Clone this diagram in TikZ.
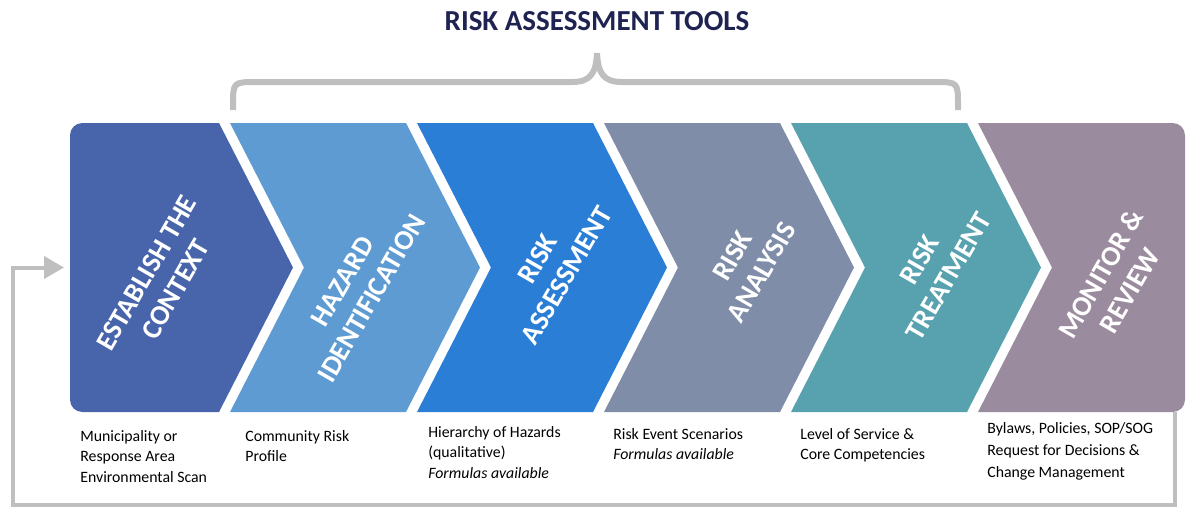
\documentclass[tikz,border=0pt]{standalone}
\usepackage{fontspec}
\setmainfont{Carlito}
\usepackage{xcolor}
\usetikzlibrary{arrows.meta,positioning}

\definecolor{ctxblue}{HTML}{4865AC}
\definecolor{hazblue}{HTML}{5F9BD3}
\definecolor{assblue}{HTML}{2B7ED6}
\definecolor{anaslate}{HTML}{7F8DA9}
\definecolor{trtteal}{HTML}{57A2AE}
\definecolor{monmauve}{HTML}{9B8B9E}
\definecolor{linegrey}{HTML}{BFBFBF}
\definecolor{titlenavy}{HTML}{1F2352}

\begin{document}
\begin{tikzpicture}[x=0.02cm,y=-0.02cm]
\tikzset{
  stage/.style={text=white,font=\bfseries\fontsize{16}{19}\selectfont,align=center,rotate=60,inner sep=0pt},
  tool/.style={anchor=base west,align=left,font=\fontsize{9}{11.6}\selectfont,inner sep=0pt},
  back/.style={-{Triangle[length=0.4cm,width=0.44cm]},line width=0.08cm,draw=linegrey},
  brace/.style={line width=0.12cm,draw=linegrey}
}
\useasboundingbox (0,0) rectangle (1187,508);

% title and brace over the tools
\node[font=\bfseries\fontsize{16.5}{20}\selectfont,text=titlenavy] (title) at (597,21) {RISK ASSESSMENT TOOLS};
\draw[brace] (233,110) -- (233,106) .. controls (233,82) and (233,82) .. (257,82) -- (572,82)
  .. controls (590,82) and (596,74) .. (597,53);
\draw[brace] (958,110) -- (958,106) .. controls (958,82) and (958,82) .. (934,82) -- (622,82)
  .. controls (604,82) and (598,74) .. (597,53);

% process chevrons
\fill[ctxblue,rounded corners=7pt] (150,123) -- (70,123) -- (70,412) -- (150,412) [sharp corners] -- (219,412) -- (293,267.5) -- (219,123) -- cycle;
\fill[hazblue] (230,123) -- (406,123) -- (480,267.5) -- (406,412) -- (230,412) -- (304,267.5) -- cycle;
\fill[assblue] (417,123) -- (593,123) -- (667,267.5) -- (593,412) -- (417,412) -- (491,267.5) -- cycle;
\fill[anaslate] (604,123) -- (780,123) -- (854,267.5) -- (780,412) -- (604,412) -- (678,267.5) -- cycle;
\fill[trtteal] (791,123) -- (967,123) -- (1041,267.5) -- (967,412) -- (791,412) -- (865,267.5) -- cycle;
\fill[monmauve,rounded corners=7pt] (1100,123) -- (1185,123) -- (1185,412) -- (1100,412) [sharp corners] -- (978,412) -- (1052,267.5) -- (978,123) -- cycle;

\node[stage] (ctx) at (161,281) {ESTABLISH THE\\CONTEXT};
\node[stage] (haz) at (357,290) {HAZARD\\IDENTIFICATION};
\node[stage] (ass) at (552,267) {RISK\\ASSESSMENT};
\node[stage] (ana) at (747,264) {RISK\\ANALYSIS};
\node[stage] (trt) at (934,268) {RISK\\TREATMENT};
\node[stage] (mon) at (1115,282) {MONITOR \&\\REVIEW};

% tools under each stage (base is the last line)
\node[tool] (ctx-tool) at (80,482) {Municipality or\\Response Area\\Environmental Scan};
\node[tool] (haz-tool) at (245,461.5) {Community Risk\\Profile};
\node[tool] (ass-tool) at (428,478) {Hierarchy of Hazards\\(qualitative)\\\textit{Formulas available}};
\node[tool] (ana-tool) at (613,459.5) {Risk Event Scenarios\\\textit{Formulas available}};
\node[tool] (trt-tool) at (800,459.5) {Level of Service \&\\Core Competencies};
\node[tool,font=\fontsize{9}{12.4}\selectfont] (mon-tool) at (987,477) {Bylaws, Policies, SOP/SOG\\Request for Decisions \&\\Change Management};

% feedback loop back to the start
\coordinate (mon-s) at (1175,412);
\coordinate (loop-corner) at (13,505);
\coordinate (ctx-w) at (64,267.5);
\draw[back] (mon-s) |- (loop-corner) |- (ctx-w);
\end{tikzpicture}
\end{document}
